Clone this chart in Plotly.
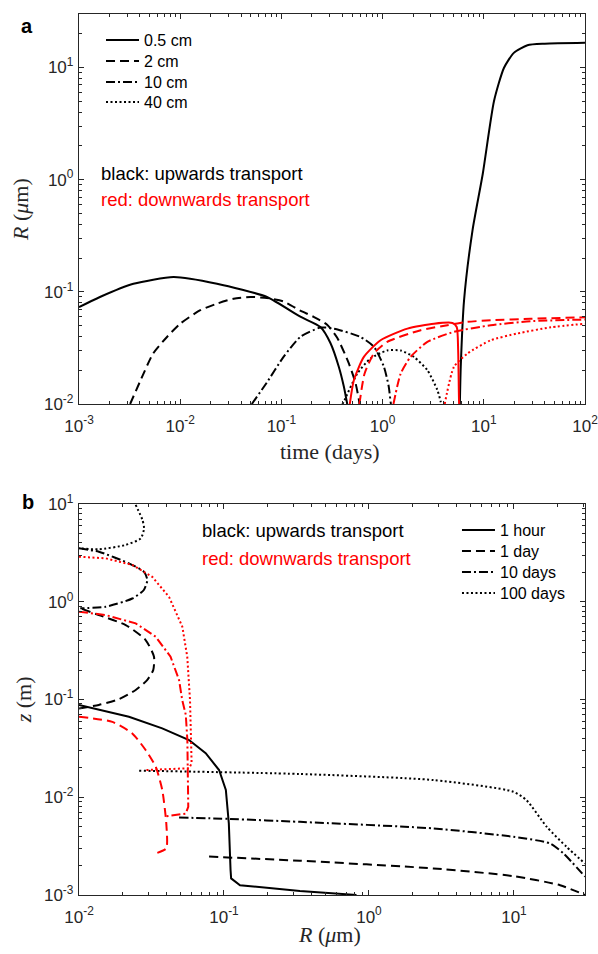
import plotly.graph_objects as go

# ---------------- Panel a : R (um) vs time (days) ----------------
# black = upwards transport, red = downwards transport
a_up_05_t1 = [1.0e-3, 1.61e-3, 3.45e-3, 8.6e-3, 0.0231, 0.072, 0.154, 0.243, 0.305, 0.369, 0.414, 0.447]
a_up_05_R1 = [0.0730, 0.090, 0.118, 0.1355, 0.118, 0.090, 0.060, 0.0486, 0.0350, 0.0215, 0.0143, 0.0100]
a_up_05_t2 = [5.8, 5.92, 6.38, 7.73, 9.77, 12.6, 15.8, 19.8, 27, 40, 100]
a_up_05_R2 = [0.0100, 0.0215, 0.084, 0.352, 1.13, 5.0, 9.9, 13.5, 15.8, 16.3, 16.6]

a_up_2_t = [3.2e-3, 4.0e-3, 5.4e-3, 7.4e-3, 0.010, 0.0158, 0.0231, 0.0337, 0.0493, 0.072, 0.105, 0.154, 0.207, 0.283, 0.356, 0.464, 0.541, 0.583, 0.59]
a_up_2_R = [0.0100, 0.0158, 0.0282, 0.0396, 0.052, 0.0686, 0.0785, 0.0869, 0.090, 0.088, 0.082, 0.068, 0.060, 0.051, 0.039, 0.023, 0.0153, 0.0109, 0.0100]

a_up_10_t = [0.051, 0.071, 0.105, 0.154, 0.243, 0.33, 0.605, 0.82, 1.03, 1.15, 1.2, 1.21]
a_up_10_R = [0.0100, 0.0153, 0.0263, 0.0397, 0.048, 0.047, 0.0396, 0.0324, 0.0215, 0.0143, 0.0104, 0.0100]

a_up_40_t = [0.40, 0.414, 0.562, 0.76, 1.11, 1.51, 2.04, 2.77, 3.48, 3.75, 3.78]
a_up_40_R = [0.0100, 0.0105, 0.0187, 0.0255, 0.030, 0.030, 0.0263, 0.020, 0.0133, 0.0105, 0.0100]

a_dn_05_t = [0.474, 0.52, 0.653, 0.955, 1.76, 3.22, 4.9, 5.4, 5.58, 5.7, 5.72]
a_dn_05_R = [0.0100, 0.0163, 0.0263, 0.037, 0.047, 0.052, 0.0528, 0.0486, 0.030, 0.0102, 0.0100]

a_dn_2_t = [0.59, 0.664, 0.82, 1.11, 2.38, 4.37, 6.9, 11.7, 29, 100]
a_dn_2_R = [0.0100, 0.0187, 0.0282, 0.0358, 0.0455, 0.0504, 0.054, 0.0558, 0.0575, 0.0593]

a_dn_10_t = [1.28, 1.51, 1.89, 2.77, 5.08, 11.7, 29, 100]
a_dn_10_R = [0.0100, 0.0187, 0.0263, 0.0358, 0.044, 0.0504, 0.0547, 0.0566]

a_dn_40_t = [4.11, 5.08, 6.9, 11.7, 21.4, 46, 100]
a_dn_40_R = [0.0100, 0.0215, 0.0282, 0.037, 0.0425, 0.0483, 0.052]

a_legend = ["0.5 cm", "2 cm", "10 cm", "40 cm"]

# ---------------- Panel b : z (m) vs R (um) ----------------
b_up_1h_R = [0.01, 0.0221, 0.0375, 0.0574, 0.0748, 0.0925, 0.103, 0.108, 0.111, 0.112, 0.129, 0.334, 0.82]
b_up_1h_z = [0.0879, 0.0667, 0.0507, 0.0385, 0.0282, 0.019, 0.0119, 0.0054, 0.0018, 0.00148, 0.00126, 0.0011, 0.0010]

b_up_1d_R1 = [0.0100, 0.0137, 0.0189, 0.0246, 0.0295, 0.0325, 0.0329, 0.0288, 0.021, 0.0137, 0.0102]
b_up_1d_z1 = [0.081, 0.088, 0.101, 0.125, 0.158, 0.2, 0.274, 0.406, 0.578, 0.731, 0.857]
b_up_1d_R2 = [0.0789, 0.334, 2.78, 9.9, 20.8, 30.9]
b_up_1d_z2 = [0.00247, 0.00224, 0.00187, 0.00156, 0.00126, 0.0010]

b_up_10d_R1 = [0.0100, 0.0137, 0.0221, 0.028, 0.0296, 0.028, 0.0233, 0.0153, 0.0102]
b_up_10d_z1 = [3.52, 3.25, 2.47, 2.03, 1.67, 1.32, 1.08, 0.889, 0.857]
b_up_10d_R2 = [0.049, 0.11, 0.334, 2.78, 9.9, 17.7, 21.9, 30.9]
b_up_10d_z2 = [0.0062, 0.0060, 0.0056, 0.0048, 0.00394, 0.00337, 0.00267, 0.00154]

b_up_100d_R1 = [0.0246, 0.0274, 0.0281, 0.0267, 0.021, 0.0137, 0.0100]
b_up_100d_z1 = [9.8, 6.86, 5.63, 4.46, 3.81, 3.44, 3.52]
b_up_100d_R2 = [0.026, 0.334, 2.78, 9.9, 12.2, 16.8, 23.1, 30.9]
b_up_100d_z2 = [0.0187, 0.0173, 0.0150, 0.0114, 0.00935, 0.0050, 0.0031, 0.0021]

b_dn_1d_R = [0.0100, 0.017, 0.0233, 0.0288, 0.0338, 0.0375, 0.040, 0.040, 0.0347]
b_dn_1d_z = [0.0667, 0.059, 0.045, 0.0304, 0.0205, 0.0119, 0.0054, 0.0030, 0.0027]

b_dn_10d_R = [0.0100, 0.0153, 0.0246, 0.0338, 0.0428, 0.049, 0.0515, 0.0545, 0.0559, 0.0567, 0.0545, 0.040]
b_dn_10d_z = [0.79, 0.731, 0.601, 0.439, 0.274, 0.158, 0.099, 0.070, 0.0385, 0.0080, 0.0068, 0.0064]

b_dn_100d_R = [0.0100, 0.0153, 0.0233, 0.032, 0.0418, 0.0516, 0.0558, 0.0583, 0.0598, 0.0574, 0.0288]
b_dn_100d_z = [2.89, 2.78, 2.38, 1.80, 1.12, 0.556, 0.274, 0.099, 0.0222, 0.0198, 0.019]

b_legend = ["1 hour", "1 day", "10 days", "100 days"]

# ---------------- styling ----------------
BLACK = "#000000"
RED = "#ff0000"
AXC = "#262626"
DASHES = ["solid", "9px,5px", "9px,3px,2px,3px", "2px,2.5px"]
LW = 2
SANS = "Liberation Sans, Arial, Helvetica, sans-serif"
SERIF = "Liberation Serif, Times New Roman, serif"

# each legend row gets its own legend box so the row spacing matches
TOP_ROWS_PX = [40, 61, 82, 102]
BOT_ROWS_PX = [530, 551, 572, 593]
TOP_LEG_X = 0.0435
BOT_LEG_X = 0.747


def join(a, b):
    return list(a) + [None] + list(b)


fig = go.Figure()


def add(x, y, color, dash, xa, ya, name=None, legend=None, smooth=True):
    line = dict(color=color, width=LW, dash=dash)
    if smooth:
        line.update(shape="spline", smoothing=0.6)
    fig.add_trace(go.Scatter(
        x=x, y=y, mode="lines", xaxis=xa, yaxis=ya, line=line,
        name=name if name else "", showlegend=name is not None,
        legend=legend, connectgaps=False, hoverinfo="skip"))


# panel a
add(join(a_up_05_t1, a_up_05_t2), join(a_up_05_R1, a_up_05_R2), BLACK, DASHES[0], "x", "y", a_legend[0], "legend")
add(a_up_2_t, a_up_2_R, BLACK, DASHES[1], "x", "y", a_legend[1], "legend2")
add(a_up_10_t, a_up_10_R, BLACK, DASHES[2], "x", "y", a_legend[2], "legend3")
add(a_up_40_t, a_up_40_R, BLACK, DASHES[3], "x", "y", a_legend[3], "legend4")
add(a_dn_05_t, a_dn_05_R, RED, DASHES[0], "x", "y")
add(a_dn_2_t, a_dn_2_R, RED, DASHES[1], "x", "y")
add(a_dn_10_t, a_dn_10_R, RED, DASHES[2], "x", "y")
add(a_dn_40_t, a_dn_40_R, RED, DASHES[3], "x", "y")

# panel b
add(b_up_1h_R, b_up_1h_z, BLACK, DASHES[0], "x2", "y2", b_legend[0], "legend5", smooth=False)
add(join(b_up_1d_R1, b_up_1d_R2), join(b_up_1d_z1, b_up_1d_z2), BLACK, DASHES[1], "x2", "y2", b_legend[1], "legend6")
add(join(b_up_10d_R1, b_up_10d_R2), join(b_up_10d_z1, b_up_10d_z2), BLACK, DASHES[2], "x2", "y2", b_legend[2], "legend7")
add(join(b_up_100d_R1, b_up_100d_R2), join(b_up_100d_z1, b_up_100d_z2), BLACK, DASHES[3], "x2", "y2", b_legend[3], "legend8")
add(b_dn_1d_R, b_dn_1d_z, RED, DASHES[1], "x2", "y2")
add(b_dn_10d_R, b_dn_10d_z, RED, DASHES[2], "x2", "y2", smooth=False)
add(b_dn_100d_R, b_dn_100d_z, RED, DASHES[3], "x2", "y2", smooth=False)


def log_axis(lo, hi, is_x, domain=None, anchor=None):
    majors = [10 ** k for k in range(lo, hi + 1)]
    minors = [m * 10 ** k for k in range(lo - 1, hi + 1) for m in range(2, 10)]
    labels = ["10<sup>%d</sup>" % k for k in range(lo, hi + 1)]
    d = dict(
        type="log", tickmode="array", tickvals=majors, ticktext=labels,
        ticks="inside", ticklen=5, tickwidth=1, tickcolor=AXC,
        minor=dict(tickmode="array", tickvals=minors, ticks="inside", ticklen=3,
                   tickwidth=1, tickcolor=AXC, showgrid=False),
        showline=True, linecolor=AXC, linewidth=1.3, mirror="allticks",
        showgrid=False, zeroline=False, automargin=False,
        ticklabeloverflow="allow",
        tickfont=dict(family=SANS, size=17, color=AXC),
        ticklabelstandoff=6 if is_x else 1,
    )
    if domain is not None:
        d["domain"] = domain
    if anchor is not None:
        d["anchor"] = anchor
    return d


xa = log_axis(-3, 2, True, anchor="y")
xa["range"] = [-3, 2]
ya = log_axis(-2, 1, False, domain=[0.5573, 1.0], anchor="x")
ya["range"] = [-2, 1.477]

xb = log_axis(-2, 1, True, anchor="y2")
xb["range"] = [-2, 1.49]
yb = log_axis(-3, 1, False, domain=[0.0, 0.4438], anchor="x2")
yb["range"] = [-3, 1]

PLOT_BOTTOM_PX, PLOT_H_PX = 895, 881


def legend_box(x, row_px):
    return dict(
        bgcolor="rgba(0,0,0,0)", borderwidth=0,
        font=dict(family=SANS, size=16, color="#000000"),
        xanchor="left", yanchor="middle", itemwidth=33,
        x=x, y=(PLOT_BOTTOM_PX - row_px) / PLOT_H_PX,
    )


legends = {}
for i, py in enumerate(TOP_ROWS_PX):
    legends["legend" if i == 0 else "legend%d" % (i + 1)] = legend_box(TOP_LEG_X, py)
for i, py in enumerate(BOT_ROWS_PX):
    legends["legend%d" % (i + 5)] = legend_box(BOT_LEG_X, py)

fig.update_layout(
    template="none",
    width=598, height=954, autosize=False,
    margin=dict(l=79, r=13, t=14, b=59, autoexpand=False),
    paper_bgcolor="white", plot_bgcolor="white",
    font=dict(family=SANS, color="#000000"),
    xaxis=xa, yaxis=ya, xaxis2=xb, yaxis2=yb,
    showlegend=True,
    **legends,
)

ann = [
    # panel letters
    dict(text="<b>a</b>", x=-0.103, y=0.9865, font=dict(family=SANS, size=20, color="#000000")),
    dict(text="<b>b</b>", x=-0.101, y=0.446, font=dict(family=SANS, size=20, color="#000000")),
    # colour keys
    dict(text="black: upwards transport", x=0.0395, y=0.8195, xanchor="left",
         font=dict(family=SANS, size=18.5, color="#000000")),
    dict(text="red: downwards transport", x=0.0395, y=0.790, xanchor="left",
         font=dict(family=SANS, size=18.5, color=RED)),
    dict(text="black: upwards transport", x=0.239, y=0.4132, xanchor="left",
         font=dict(family=SANS, size=18.5, color="#000000")),
    dict(text="red: downwards transport", x=0.239, y=0.3825, xanchor="left",
         font=dict(family=SANS, size=18.5, color=RED)),
    # axis titles
    dict(text="time (days)", x=0.496, y=0.503, font=dict(family=SERIF, size=22, color=AXC)),
    dict(text="<i>R</i> (<i>μ</i>m)", x=-0.1166, y=0.7775, textangle=-90,
         font=dict(family=SERIF, size=22, color=AXC)),
    dict(text="<i>R</i> (<i>μ</i>m)", x=0.496, y=-0.0454, font=dict(family=SERIF, size=22, color=AXC)),
    dict(text="<i>z</i> (m)", x=-0.11, y=0.2213, textangle=-90,
         font=dict(family=SERIF, size=22, color=AXC)),
]
for a in ann:
    a.setdefault("xref", "paper")
    a.setdefault("yref", "paper")
    a.setdefault("showarrow", False)
    a.setdefault("xanchor", "center")
    a.setdefault("yanchor", "middle")
    fig.add_annotation(**a)

fig.write_html("out.html")
